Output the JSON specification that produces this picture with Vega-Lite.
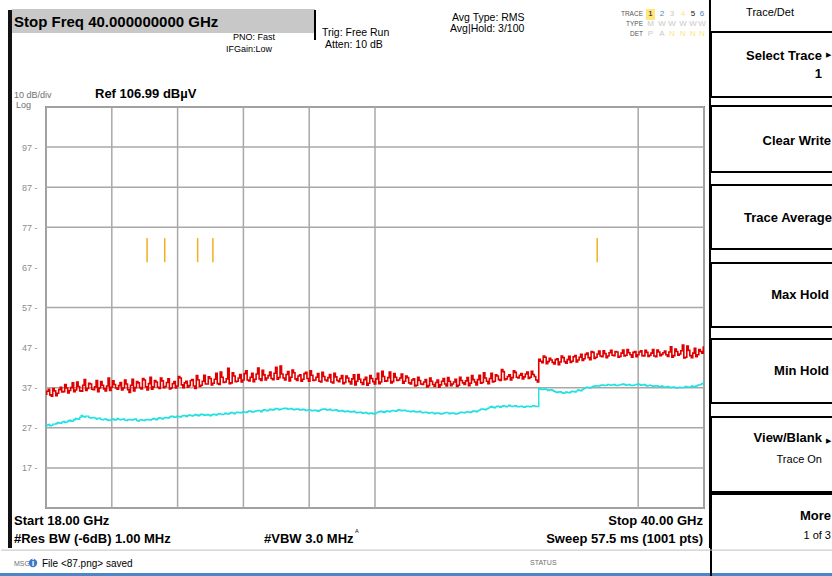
{
  "$schema": "https://vega.github.io/schema/vega-lite/v6.json",
  "width": 658,
  "height": 401,
  "autosize": {"type": "none"},
  "padding": {"left": 46, "top": 107, "right": 128, "bottom": 68},
  "background": "white",
  "config": {"font": "Liberation Sans", "view": {"stroke": "#8a8a8a", "strokeWidth": 2}},
  "datasets": {
    "tr": [
      {"f":18.0,"r":35.4,"c":27.4},{"f":18.1,"r":36.6,"c":27.8},{"f":18.2,"r":34.9,"c":27.6},{"f":18.3,"r":36.2,"c":27.9},{"f":18.4,"r":35.6,"c":28.3},
      {"f":18.5,"r":37.1,"c":28.1},{"f":18.6,"r":36.0,"c":28.6},{"f":18.7,"r":36.9,"c":28.4},{"f":18.8,"r":36.3,"c":28.9},{"f":18.9,"r":38.2,"c":28.7},
      {"f":19.0,"r":36.4,"c":29.3},{"f":19.1,"r":37.3,"c":29.1},{"f":19.2,"r":36.1,"c":30.1},{"f":19.3,"r":39.0,"c":29.7},{"f":19.4,"r":36.8,"c":29.9},
      {"f":19.5,"r":37.9,"c":29.4},{"f":19.6,"r":36.5,"c":29.6},{"f":19.7,"r":38.8,"c":29.2},{"f":19.8,"r":36.9,"c":29.4},{"f":19.9,"r":37.6,"c":29.0},
      {"f":20.0,"r":36.2,"c":29.2},{"f":20.1,"r":39.4,"c":28.8},{"f":20.2,"r":37.1,"c":29.1},{"f":20.3,"r":37.8,"c":28.9},{"f":20.4,"r":36.6,"c":29.3},
      {"f":20.5,"r":38.3,"c":29.0},{"f":20.6,"r":36.9,"c":29.2},{"f":20.7,"r":37.9,"c":28.8},{"f":20.8,"r":35.8,"c":29.1},{"f":20.9,"r":39.1,"c":28.9},
      {"f":21.0,"r":37.0,"c":29.2},{"f":21.1,"r":38.2,"c":28.7},{"f":21.2,"r":36.7,"c":29.0},{"f":21.3,"r":38.9,"c":28.8},{"f":21.4,"r":36.4,"c":29.1},
      {"f":21.5,"r":39.6,"c":28.9},{"f":21.6,"r":37.2,"c":29.3},{"f":21.7,"r":38.4,"c":29.0},{"f":21.8,"r":36.8,"c":29.5},{"f":21.9,"r":38.7,"c":29.2},
      {"f":22.0,"r":37.3,"c":29.6},{"f":22.1,"r":39.2,"c":29.4},{"f":22.2,"r":36.9,"c":29.9},{"f":22.3,"r":38.5,"c":29.6},{"f":22.4,"r":37.4,"c":29.9},
      {"f":22.5,"r":39.4,"c":29.7},{"f":22.6,"r":37.0,"c":30.1},{"f":22.7,"r":38.6,"c":29.8},{"f":22.8,"r":37.5,"c":30.2},{"f":22.9,"r":39.0,"c":29.9},
      {"f":23.0,"r":36.8,"c":30.3},{"f":23.1,"r":38.9,"c":30.0},{"f":23.2,"r":37.6,"c":30.4},{"f":23.3,"r":40.1,"c":30.1},{"f":23.4,"r":37.9,"c":30.3},
      {"f":23.5,"r":39.3,"c":30.0},{"f":23.6,"r":38.1,"c":30.4},{"f":23.7,"r":40.6,"c":30.2},{"f":23.8,"r":37.8,"c":30.5},{"f":23.9,"r":39.6,"c":30.3},
      {"f":24.0,"r":38.4,"c":30.6},{"f":24.1,"r":41.8,"c":30.4},{"f":24.2,"r":38.2,"c":30.8},{"f":24.3,"r":39.9,"c":30.5},{"f":24.4,"r":38.6,"c":30.9},
      {"f":24.5,"r":40.3,"c":30.7},{"f":24.6,"r":38.9,"c":31.0},{"f":24.7,"r":41.2,"c":30.8},{"f":24.8,"r":38.7,"c":31.2},{"f":24.9,"r":40.6,"c":30.9},
      {"f":25.0,"r":39.1,"c":31.1},{"f":25.1,"r":41.9,"c":31.3},{"f":25.2,"r":38.8,"c":31.0},{"f":25.3,"r":40.2,"c":31.5},{"f":25.4,"r":39.4,"c":31.2},
      {"f":25.5,"r":40.9,"c":31.6},{"f":25.6,"r":39.0,"c":31.4},{"f":25.7,"r":42.1,"c":31.8},{"f":25.8,"r":39.5,"c":31.5},{"f":25.9,"r":40.4,"c":31.7},
      {"f":26.0,"r":38.9,"c":31.9},{"f":26.1,"r":41.0,"c":31.6},{"f":26.2,"r":39.6,"c":31.8},{"f":26.3,"r":40.7,"c":31.5},{"f":26.4,"r":38.8,"c":31.7},
      {"f":26.5,"r":40.2,"c":31.4},{"f":26.6,"r":39.1,"c":31.6},{"f":26.7,"r":40.8,"c":31.3},{"f":26.8,"r":38.6,"c":31.5},{"f":26.9,"r":40.1,"c":31.2},
      {"f":27.0,"r":38.9,"c":31.4},{"f":27.1,"r":40.5,"c":31.1},{"f":27.2,"r":38.4,"c":31.5},{"f":27.3,"r":39.8,"c":31.7},{"f":27.4,"r":38.7,"c":31.4},
      {"f":27.5,"r":40.3,"c":31.6},{"f":27.6,"r":38.2,"c":31.3},{"f":27.7,"r":39.7,"c":31.5},{"f":27.8,"r":38.5,"c":31.1},{"f":27.9,"r":40.0,"c":31.3},
      {"f":28.0,"r":38.3,"c":31.0},{"f":28.1,"r":39.4,"c":31.2},{"f":28.2,"r":37.9,"c":30.9},{"f":28.3,"r":40.2,"c":31.1},{"f":28.4,"r":38.6,"c":30.7},
      {"f":28.5,"r":39.1,"c":30.9},{"f":28.6,"r":37.8,"c":30.6},{"f":28.7,"r":39.6,"c":30.8},{"f":28.8,"r":38.1,"c":30.5},{"f":28.9,"r":39.3,"c":30.7},
      {"f":29.0,"r":37.9,"c":30.4},{"f":29.1,"r":40.6,"c":30.9},{"f":29.2,"r":38.4,"c":31.1},{"f":29.3,"r":39.8,"c":30.8},{"f":29.4,"r":38.7,"c":31.2},
      {"f":29.5,"r":40.9,"c":31.0},{"f":29.6,"r":38.5,"c":31.3},{"f":29.7,"r":39.6,"c":31.1},{"f":29.8,"r":38.9,"c":31.5},{"f":29.9,"r":40.4,"c":31.2},
      {"f":30.0,"r":38.6,"c":31.4},{"f":30.1,"r":39.5,"c":31.1},{"f":30.2,"r":37.9,"c":31.0},{"f":30.3,"r":39.2,"c":31.2},{"f":30.4,"r":37.6,"c":30.9},
      {"f":30.5,"r":38.8,"c":31.1},{"f":30.6,"r":37.8,"c":30.7},{"f":30.7,"r":39.0,"c":30.9},{"f":30.8,"r":37.5,"c":30.6},{"f":30.9,"r":38.6,"c":30.8},
      {"f":31.0,"r":37.3,"c":30.5},{"f":31.1,"r":38.9,"c":30.7},{"f":31.2,"r":37.7,"c":30.4},{"f":31.3,"r":39.3,"c":30.6},{"f":31.4,"r":37.4,"c":30.8},
      {"f":31.5,"r":38.6,"c":30.5},{"f":31.6,"r":37.9,"c":30.7},{"f":31.7,"r":39.1,"c":30.4},{"f":31.8,"r":37.6,"c":30.6},{"f":31.9,"r":38.8,"c":30.9},
      {"f":32.0,"r":37.8,"c":30.7},{"f":32.1,"r":39.5,"c":31.0},{"f":32.2,"r":38.1,"c":30.8},{"f":32.3,"r":39.0,"c":31.2},{"f":32.4,"r":37.7,"c":31.0},
      {"f":32.5,"r":40.1,"c":31.4},{"f":32.6,"r":38.3,"c":31.7},{"f":32.7,"r":39.4,"c":31.5},{"f":32.8,"r":38.0,"c":31.9},{"f":32.9,"r":40.6,"c":32.3},
      {"f":33.0,"r":38.6,"c":32.0},{"f":33.1,"r":39.9,"c":32.4},{"f":33.2,"r":38.8,"c":32.1},{"f":33.3,"r":41.0,"c":32.5},{"f":33.4,"r":39.2,"c":32.2},
      {"f":33.5,"r":40.2,"c":32.6},{"f":33.6,"r":39.5,"c":32.3},{"f":33.7,"r":40.8,"c":32.5},{"f":33.8,"r":39.4,"c":32.2},{"f":33.9,"r":40.5,"c":32.4},
      {"f":34.0,"r":39.7,"c":32.1},{"f":34.1,"r":40.9,"c":32.4},{"f":34.2,"r":39.6,"c":32.2},{"f":34.3,"r":40.3,"c":32.5},{"f":34.4,"r":38.9,"c":32.3},
      {"f":34.5,"r":44.1,"c":36.8},{"f":34.6,"r":43.2,"c":36.5},{"f":34.7,"r":44.6,"c":36.7},{"f":34.8,"r":43.5,"c":36.3},{"f":34.9,"r":43.9,"c":36.5},
      {"f":35.0,"r":42.9,"c":36.1},{"f":35.1,"r":44.2,"c":35.8},{"f":35.2,"r":43.4,"c":36.0},{"f":35.3,"r":44.5,"c":35.6},{"f":35.4,"r":43.1,"c":35.9},
      {"f":35.5,"r":44.8,"c":35.7},{"f":35.6,"r":43.6,"c":36.1},{"f":35.7,"r":45.0,"c":35.9},{"f":35.8,"r":43.9,"c":36.4},{"f":35.9,"r":45.3,"c":36.2},
      {"f":36.0,"r":44.2,"c":36.8},{"f":36.1,"r":45.6,"c":37.1},{"f":36.2,"r":44.0,"c":36.9},{"f":36.3,"r":45.8,"c":37.3},{"f":36.4,"r":44.6,"c":37.5},
      {"f":36.5,"r":46.1,"c":37.4},{"f":36.6,"r":44.7,"c":37.7},{"f":36.7,"r":45.5,"c":37.5},{"f":36.8,"r":44.9,"c":37.8},{"f":36.9,"r":46.3,"c":37.6},
      {"f":37.0,"r":45.0,"c":37.8},{"f":37.1,"r":45.9,"c":37.5},{"f":37.2,"r":44.8,"c":37.7},{"f":37.3,"r":46.4,"c":37.9},{"f":37.4,"r":45.1,"c":37.6},
      {"f":37.5,"r":45.7,"c":37.8},{"f":37.6,"r":44.6,"c":37.5},{"f":37.7,"r":46.0,"c":37.7},{"f":37.8,"r":45.2,"c":37.9},{"f":37.9,"r":46.2,"c":37.6},
      {"f":38.0,"r":44.9,"c":37.8},{"f":38.1,"r":45.8,"c":37.4},{"f":38.2,"r":45.1,"c":37.6},{"f":38.3,"r":46.5,"c":37.3},{"f":38.4,"r":44.7,"c":37.5},
      {"f":38.5,"r":45.9,"c":37.2},{"f":38.6,"r":45.3,"c":37.4},{"f":38.7,"r":46.1,"c":37.1},{"f":38.8,"r":44.8,"c":37.3},{"f":38.9,"r":47.2,"c":37.0},
      {"f":39.0,"r":45.0,"c":37.2},{"f":39.1,"r":46.0,"c":36.9},{"f":39.2,"r":45.4,"c":37.1},{"f":39.3,"r":47.6,"c":37.0},{"f":39.4,"r":44.6,"c":37.3},
      {"f":39.5,"r":46.3,"c":37.1},{"f":39.6,"r":44.5,"c":37.4},{"f":39.7,"r":46.8,"c":37.2},{"f":39.8,"r":45.2,"c":37.6},{"f":39.9,"r":46.0,"c":37.8},
      {"f":40.0,"r":47.1,"c":38.2},
      {"f":18.05,"r":36.1,"c":27.7},{"f":18.15,"r":35.2,"c":27.5},{"f":18.25,"r":36.8,"c":27.9},{"f":18.35,"r":35.0,"c":28.0},{"f":18.45,"r":36.5,"c":28.2},
      {"f":18.55,"r":35.9,"c":28.4},{"f":18.65,"r":37.8,"c":28.3},{"f":18.75,"r":35.7,"c":28.7},{"f":18.85,"r":37.0,"c":28.6},{"f":18.95,"r":36.0,"c":29.0},
      {"f":19.05,"r":38.4,"c":29.2},{"f":19.15,"r":36.2,"c":29.6},{"f":19.25,"r":37.6,"c":29.8},{"f":19.35,"r":36.3,"c":29.9},{"f":19.45,"r":38.1,"c":29.6},
      {"f":19.55,"r":36.6,"c":29.5},{"f":19.65,"r":37.2,"c":29.4},{"f":19.75,"r":36.0,"c":29.3},{"f":19.85,"r":38.5,"c":29.1},{"f":19.95,"r":36.7,"c":29.1},
      {"f":20.05,"r":37.4,"c":29.0},{"f":20.15,"r":36.3,"c":28.9},{"f":20.25,"r":38.7,"c":29.2},{"f":20.35,"r":36.9,"c":29.0},{"f":20.45,"r":37.5,"c":29.1},
      {"f":20.55,"r":36.4,"c":29.1},{"f":20.65,"r":38.9,"c":28.9},{"f":20.75,"r":36.5,"c":29.0},{"f":20.85,"r":37.6,"c":29.0},{"f":20.95,"r":36.2,"c":29.1},
      {"f":21.05,"r":38.5,"c":28.8},{"f":21.15,"r":37.0,"c":28.9},{"f":21.25,"r":39.3,"c":28.9},{"f":21.35,"r":37.2,"c":29.0},{"f":21.45,"r":38.0,"c":29.0},
      {"f":21.55,"r":36.6,"c":29.1},{"f":21.65,"r":38.8,"c":29.2},{"f":21.75,"r":37.1,"c":29.3},{"f":21.85,"r":39.4,"c":29.4},{"f":21.95,"r":37.0,"c":29.4},
      {"f":22.05,"r":38.3,"c":29.5},{"f":22.15,"r":36.7,"c":29.7},{"f":22.25,"r":38.0,"c":29.8},{"f":22.35,"r":36.9,"c":29.7},{"f":22.45,"r":39.8,"c":29.8},
      {"f":22.55,"r":37.7,"c":29.9},{"f":22.65,"r":38.2,"c":30.0},{"f":22.75,"r":37.1,"c":30.0},{"f":22.85,"r":38.8,"c":30.1},{"f":22.95,"r":37.4,"c":30.1},
      {"f":23.05,"r":40.0,"c":30.2},{"f":23.15,"r":37.3,"c":30.2},{"f":23.25,"r":38.6,"c":30.3},{"f":23.35,"r":37.9,"c":30.2},{"f":23.45,"r":39.7,"c":30.2},
      {"f":23.55,"r":37.7,"c":30.2},{"f":23.65,"r":39.1,"c":30.3},{"f":23.75,"r":38.0,"c":30.4},{"f":23.85,"r":40.9,"c":30.4},{"f":23.95,"r":38.3,"c":30.4},
      {"f":24.05,"r":39.2,"c":30.5},{"f":24.15,"r":38.0,"c":30.6},{"f":24.25,"r":40.7,"c":30.7},{"f":24.35,"r":38.5,"c":30.7},{"f":24.45,"r":39.4,"c":30.8},
      {"f":24.55,"r":38.4,"c":30.8},{"f":24.65,"r":40.5,"c":30.9},{"f":24.75,"r":38.9,"c":31.0},{"f":24.85,"r":39.6,"c":31.1},{"f":24.95,"r":38.5,"c":31.0},
      {"f":25.05,"r":40.4,"c":31.2},{"f":25.15,"r":39.2,"c":31.2},{"f":25.25,"r":41.3,"c":31.3},{"f":25.35,"r":38.9,"c":31.4},{"f":25.45,"r":40.0,"c":31.4},
      {"f":25.55,"r":39.3,"c":31.5},{"f":25.65,"r":40.6,"c":31.6},{"f":25.75,"r":39.1,"c":31.7},{"f":25.85,"r":42.4,"c":31.6},{"f":25.95,"r":39.4,"c":31.8},
      {"f":26.05,"r":40.3,"c":31.8},{"f":26.15,"r":38.7,"c":31.7},{"f":26.25,"r":41.4,"c":31.6},{"f":26.35,"r":39.2,"c":31.6},{"f":26.45,"r":39.9,"c":31.6},
      {"f":26.55,"r":38.6,"c":31.5},{"f":26.65,"r":40.5,"c":31.5},{"f":26.75,"r":39.3,"c":31.4},{"f":26.85,"r":41.2,"c":31.4},{"f":26.95,"r":38.8,"c":31.3},
      {"f":27.05,"r":39.6,"c":31.3},{"f":27.15,"r":38.6,"c":31.3},{"f":27.25,"r":40.8,"c":31.6},{"f":27.35,"r":38.9,"c":31.6},{"f":27.45,"r":39.5,"c":31.5},
      {"f":27.55,"r":38.4,"c":31.4},{"f":27.65,"r":40.6,"c":31.4},{"f":27.75,"r":38.8,"c":31.3},{"f":27.85,"r":39.3,"c":31.2},{"f":27.95,"r":38.0,"c":31.1},
      {"f":28.05,"r":39.9,"c":31.1},{"f":28.15,"r":38.5,"c":31.0},{"f":28.25,"r":39.2,"c":31.0},{"f":28.35,"r":37.7,"c":30.9},{"f":28.45,"r":40.3,"c":30.8},
      {"f":28.55,"r":38.3,"c":30.8},{"f":28.65,"r":39.0,"c":30.7},{"f":28.75,"r":37.6,"c":30.6},{"f":28.85,"r":40.0,"c":30.6},{"f":28.95,"r":38.5,"c":30.5},
      {"f":29.05,"r":39.2,"c":30.7},{"f":29.15,"r":38.0,"c":31.0},{"f":29.25,"r":41.1,"c":31.0},{"f":29.35,"r":38.6,"c":31.0},{"f":29.45,"r":39.5,"c":31.1},
      {"f":29.55,"r":38.2,"c":31.2},{"f":29.65,"r":40.5,"c":31.2},{"f":29.75,"r":38.8,"c":31.3},{"f":29.85,"r":39.4,"c":31.4},{"f":29.95,"r":38.1,"c":31.3},
      {"f":30.05,"r":39.9,"c":31.2},{"f":30.15,"r":38.2,"c":31.1},{"f":30.25,"r":38.9,"c":31.1},{"f":30.35,"r":37.4,"c":31.0},{"f":30.45,"r":39.6,"c":31.0},
      {"f":30.55,"r":37.9,"c":30.9},{"f":30.65,"r":38.4,"c":30.8},{"f":30.75,"r":37.2,"c":30.8},{"f":30.85,"r":39.4,"c":30.7},{"f":30.95,"r":37.8,"c":30.7},
      {"f":31.05,"r":38.3,"c":30.6},{"f":31.15,"r":37.1,"c":30.6},{"f":31.25,"r":38.6,"c":30.5},{"f":31.35,"r":37.9,"c":30.7},{"f":31.45,"r":39.5,"c":30.7},
      {"f":31.55,"r":37.5,"c":30.6},{"f":31.65,"r":38.4,"c":30.6},{"f":31.75,"r":37.3,"c":30.5},{"f":31.85,"r":39.6,"c":30.8},{"f":31.95,"r":38.2,"c":30.8},
      {"f":32.05,"r":38.7,"c":30.9},{"f":32.15,"r":37.5,"c":30.9},{"f":32.25,"r":40.0,"c":31.0},{"f":32.35,"r":38.4,"c":31.1},{"f":32.45,"r":39.0,"c":31.2},
      {"f":32.55,"r":38.1,"c":31.6},{"f":32.65,"r":40.7,"c":31.6},{"f":32.75,"r":38.6,"c":31.7},{"f":32.85,"r":39.3,"c":32.1},{"f":32.95,"r":38.4,"c":32.1},
      {"f":33.05,"r":40.2,"c":32.2},{"f":33.15,"r":39.0,"c":32.3},{"f":33.25,"r":41.5,"c":32.3},{"f":33.35,"r":39.0,"c":32.4},{"f":33.45,"r":39.8,"c":32.4},
      {"f":33.55,"r":38.9,"c":32.4},{"f":33.65,"r":41.2,"c":32.4},{"f":33.75,"r":39.6,"c":32.3},{"f":33.85,"r":40.1,"c":32.3},{"f":33.95,"r":39.2,"c":32.2},
      {"f":34.05,"r":40.4,"c":32.3},{"f":34.15,"r":39.3,"c":32.3},{"f":34.25,"r":41.1,"c":32.4},{"f":34.35,"r":39.8,"c":32.4},{"f":34.45,"r":38.4,"c":32.3},
      {"f":34.55,"r":43.6,"c":36.6},{"f":34.65,"r":44.9,"c":36.6},{"f":34.75,"r":43.0,"c":36.5},{"f":34.85,"r":44.3,"c":36.4},{"f":34.95,"r":43.3,"c":36.3},
      {"f":35.05,"r":44.0,"c":35.9},{"f":35.15,"r":42.7,"c":35.9},{"f":35.25,"r":44.9,"c":35.8},{"f":35.35,"r":43.5,"c":35.7},{"f":35.45,"r":44.0,"c":35.8},
      {"f":35.55,"r":43.3,"c":35.9},{"f":35.65,"r":44.7,"c":36.0},{"f":35.75,"r":43.4,"c":36.2},{"f":35.85,"r":44.6,"c":36.3},{"f":35.95,"r":43.8,"c":36.5},
      {"f":36.05,"r":45.3,"c":37.0},{"f":36.15,"r":44.5,"c":37.0},{"f":36.25,"r":46.0,"c":37.1},{"f":36.35,"r":44.3,"c":37.4},{"f":36.45,"r":45.4,"c":37.4},
      {"f":36.55,"r":44.9,"c":37.6},{"f":36.65,"r":46.2,"c":37.6},{"f":36.75,"r":44.5,"c":37.6},{"f":36.85,"r":45.7,"c":37.7},{"f":36.95,"r":45.1,"c":37.7},
      {"f":37.05,"r":46.0,"c":37.6},{"f":37.15,"r":44.6,"c":37.6},{"f":37.25,"r":45.6,"c":37.8},{"f":37.35,"r":44.9,"c":37.8},{"f":37.45,"r":46.5,"c":37.7},
      {"f":37.55,"r":45.2,"c":37.6},{"f":37.65,"r":45.8,"c":37.6},{"f":37.75,"r":44.7,"c":37.8},{"f":37.85,"r":45.9,"c":37.8},{"f":37.95,"r":45.0,"c":37.7},
      {"f":38.05,"r":46.3,"c":37.6},{"f":38.15,"r":44.8,"c":37.5},{"f":38.25,"r":45.6,"c":37.5},{"f":38.35,"r":44.9,"c":37.4},{"f":38.45,"r":46.4,"c":37.4},
      {"f":38.55,"r":45.0,"c":37.3},{"f":38.65,"r":45.7,"c":37.2},{"f":38.75,"r":45.2,"c":37.2},{"f":38.85,"r":45.9,"c":37.1},{"f":38.95,"r":44.6,"c":37.1},
      {"f":39.05,"r":46.6,"c":37.0},{"f":39.15,"r":45.1,"c":37.0},{"f":39.25,"r":46.2,"c":37.0},{"f":39.35,"r":44.4,"c":37.1},{"f":39.45,"r":47.4,"c":37.2},
      {"f":39.55,"r":45.0,"c":37.2},{"f":39.65,"r":45.6,"c":37.3},{"f":39.75,"r":44.7,"c":37.4},{"f":39.85,"r":46.5,"c":37.7},{"f":39.95,"r":45.6,"c":38.0}
    ]
  },
  "layer": [
    {
      "data": {"values": [{"x":16.729,"x2":16.863,"y":131.18,"y2":-2.985,"k":"bar"},{"x":16.462,"x2":44.4,"y":-9.219,"y2":-10.2,"k":"strip"},{"x":16.863,"x2":26.994,"y":131.429,"y2":125.444,"k":"box"},{"x":38.06,"x2":38.361,"y":131.429,"y2":128.686,"k":"hl"}]},
      "mark": {"type": "rect"},
      "encoding": {
        "x": {"field": "x", "type": "quantitative", "scale": {"domain": [18, 40], "nice": false, "zero": false}, "axis": null},
        "x2": {"field": "x2"},
        "y": {"field": "y", "type": "quantitative", "scale": {"domain": [6.99, 106.99], "nice": false, "zero": false}, "axis": {"values": [16.99,26.99,36.99,46.99,56.99,66.99,76.99,86.99,96.99], "labelExpr": "format(datum.value, '.0f') + ' -'", "labelColor": "#8c8c8c", "labelFontSize": 9, "ticks": false, "domain": false, "grid": false, "labelPadding": 9, "title": null}},
        "y2": {"field": "y2"},
        "color": {"field": "k", "type": "nominal", "legend": null, "scale": {"domain": ["bar","strip","box","hl"], "range": ["#111111","#4a86c8","#c8c8c8","#ffe680"]}}
      }
    },
    {
      "data": {"values": [{"g":18},{"g":20.2},{"g":22.4},{"g":24.6},{"g":26.8},{"g":29},{"g":37.8},{"g":40}]},
      "mark": {"type": "rule", "color": "#a8a8a8", "strokeWidth": 1.5},
      "encoding": {"x": {"field": "g", "type": "quantitative", "scale": {"domain": [18, 40], "nice": false, "zero": false}, "axis": null}}
    },
    {
      "data": {"values": [{"g":6.99},{"g":16.99},{"g":26.99},{"g":36.99},{"g":56.99},{"g":76.99},{"g":86.99},{"g":96.99},{"g":106.99}]},
      "mark": {"type": "rule", "color": "#a8a8a8", "strokeWidth": 1.5},
      "encoding": {"y": {"field": "g", "type": "quantitative", "scale": {"domain": [6.99, 106.99], "nice": false, "zero": false}, "axis": {"values": [16.99,26.99,36.99,46.99,56.99,66.99,76.99,86.99,96.99], "labelExpr": "format(datum.value, '.0f') + ' -'", "labelColor": "#8c8c8c", "labelFontSize": 9, "ticks": false, "domain": false, "grid": false, "labelPadding": 9, "title": null}}}
    },
    {
      "data": {"name": "tr"},
      "mark": {"type": "line", "color": "#20e0e0", "strokeWidth": 1.4, "interpolate": "step"},
      "encoding": {
        "x": {"field": "f", "type": "quantitative", "scale": {"domain": [18, 40], "nice": false, "zero": false}, "axis": null},
        "y": {"field": "c", "type": "quantitative", "scale": {"domain": [6.99, 106.99], "nice": false, "zero": false}}
      }
    },
    {
      "data": {"name": "tr"},
      "mark": {"type": "line", "color": "#e00000", "strokeWidth": 1.6, "interpolate": "step"},
      "encoding": {
        "x": {"field": "f", "type": "quantitative", "scale": {"domain": [18, 40], "nice": false, "zero": false}, "axis": null},
        "y": {"field": "r", "type": "quantitative", "scale": {"domain": [6.99, 106.99], "nice": false, "zero": false}}
      }
    },
    {
      "data": {"values": [{"m":21.38},{"m":21.97},{"m":23.07},{"m":23.58},{"m":36.43}]},
      "mark": {"type": "rule", "color": "#f0b020", "strokeWidth": 1.5},
      "encoding": {
        "x": {"field": "m", "type": "quantitative", "scale": {"domain": [18, 40], "nice": false, "zero": false}, "axis": null},
        "y": {"datum": 68.3, "type": "quantitative", "scale": {"domain": [6.99, 106.99], "nice": false, "zero": false}},
        "y2": {"datum": 74.3}
      }
    },
    {
      "data": {"values": [
        {"x":40.234,"x2":44.6,"y":125.693,"y2":109.484},
        {"x":40.234,"x2":44.6,"y":107.239,"y2":90.78},
        {"x":40.234,"x2":44.6,"y":87.539,"y2":71.578},
        {"x":40.234,"x2":44.6,"y":68.087,"y2":52.127},
        {"x":40.234,"x2":44.6,"y":49.135,"y2":33.175},
        {"x":40.234,"x2":44.6,"y":29.683,"y2":10.981},
        {"x":40.234,"x2":44.6,"y":10.482,"y2":-11.0}
      ]},
      "mark": {"type": "rect", "fill": null, "fillOpacity": 0, "stroke": "#000000", "strokeWidth": 2},
      "encoding": {
        "x": {"field": "x", "type": "quantitative", "scale": {"domain": [18, 40], "nice": false, "zero": false}, "axis": null},
        "x2": {"field": "x2"},
        "y": {"field": "y", "type": "quantitative", "scale": {"domain": [6.99, 106.99], "nice": false, "zero": false}},
        "y2": {"field": "y2"}
      }
    },
    {
      "data": {"values": [{"x":40.2,"y":133.7,"y2":-2.985},{"x":26.994,"y":131.18,"y2":123.7}]},
      "mark": {"type": "rule", "color": "#000000", "strokeWidth": 2},
      "encoding": {
        "x": {"field": "x", "type": "quantitative", "scale": {"domain": [18, 40], "nice": false, "zero": false}, "axis": null},
        "y": {"field": "y", "type": "quantitative", "scale": {"domain": [6.99, 106.99], "nice": false, "zero": false}},
        "y2": {"field": "y2"}
      }
    },
    {
      "data": {"values": [{"x":16.5,"x2":44.4,"y":-3.5},{"x":34.818,"x2":34.818,"y":-3.5}]},
      "mark": {"type": "rule", "color": "#c0c0c0", "strokeWidth": 1},
      "encoding": {
        "x": {"field": "x", "type": "quantitative", "scale": {"domain": [18, 40], "nice": false, "zero": false}, "axis": null},
        "x2": {"field": "x2"},
        "y": {"field": "y", "type": "quantitative", "scale": {"domain": [6.99, 106.99], "nice": false, "zero": false}}
      }
    },
    {
      "data": {"values": [{"x":17.565,"y":-6.727}]},
      "mark": {"type": "point", "filled": true, "color": "#3a78d0", "size": 70, "opacity": 1},
      "encoding": {
        "x": {"field": "x", "type": "quantitative", "scale": {"domain": [18, 40], "nice": false, "zero": false}, "axis": null},
        "y": {"field": "y", "type": "quantitative", "scale": {"domain": [6.99, 106.99], "nice": false, "zero": false}}
      }
    },
    {
      "data": {"values": [{"x":17.565,"y":-6.727,"t":"i"}]},
      "mark": {"type": "text", "color": "white", "fontSize": 9, "fontWeight": "bold", "align": "center", "baseline": "middle"},
      "encoding": {
        "x": {"field": "x", "type": "quantitative", "scale": {"domain": [18, 40], "nice": false, "zero": false}, "axis": null},
        "y": {"field": "y", "type": "quantitative", "scale": {"domain": [6.99, 106.99], "nice": false, "zero": false}},
        "text": {"field": "t"}
      }
    },
    {
      "data": {"values": [{"x":16.93,"y":128.19,"t":"Stop Freq 40.000000000 GHz"}]},
      "mark": {"type": "text", "color": "#000000", "fontSize": 15, "fontWeight": "bold", "align": "left", "baseline": "middle"},
      "encoding": {
        "x": {"field": "x", "type": "quantitative", "scale": {"domain": [18, 40], "nice": false, "zero": false}, "axis": null},
        "y": {"field": "y", "type": "quantitative", "scale": {"domain": [6.99, 106.99], "nice": false, "zero": false}},
        "text": {"field": "t"}
      }
    },
    {
      "data": {"values": [{"x":24.252,"y":124.446,"t":"PNO: Fast"},{"x":24.018,"y":121.45,"t":"IFGain:Low"}]},
      "mark": {"type": "text", "color": "#000000", "fontSize": 9, "align": "left", "baseline": "middle"},
      "encoding": {
        "x": {"field": "x", "type": "quantitative", "scale": {"domain": [18, 40], "nice": false, "zero": false}, "axis": null},
        "y": {"field": "y", "type": "quantitative", "scale": {"domain": [6.99, 106.99], "nice": false, "zero": false}},
        "text": {"field": "t"}
      }
    },
    {
      "data": {"values": [{"x":27.228,"y":125.444,"t":"Trig: Free Run"},{"x":27.328,"y":122.45,"t":"Atten: 10 dB"},{"x":31.575,"y":129.18,"t":"Avg Type: RMS"},{"x":31.508,"y":126.44,"t":"Avg|Hold: 3/100"}]},
      "mark": {"type": "text", "color": "#000000", "fontSize": 10.5, "align": "left", "baseline": "middle"},
      "encoding": {
        "x": {"field": "x", "type": "quantitative", "scale": {"domain": [18, 40], "nice": false, "zero": false}, "axis": null},
        "y": {"field": "y", "type": "quantitative", "scale": {"domain": [6.99, 106.99], "nice": false, "zero": false}},
        "text": {"field": "t"}
      }
    },
    {
      "data": {"values": [{"x":37.96,"y":130.182,"t":"TRACE"},{"x":37.96,"y":127.688,"t":"TYPE"},{"x":37.96,"y":125.194,"t":"DET"}]},
      "mark": {"type": "text", "color": "#555555", "fontSize": 6.5, "align": "right", "baseline": "middle"},
      "encoding": {
        "x": {"field": "x", "type": "quantitative", "scale": {"domain": [18, 40], "nice": false, "zero": false}, "axis": null},
        "y": {"field": "y", "type": "quantitative", "scale": {"domain": [6.99, 106.99], "nice": false, "zero": false}},
        "text": {"field": "t"}
      }
    },
    {
      "data": {"values": [
        {"x":38.21,"y":130.182,"t":"1","k":"1"},{"x":38.595,"y":130.182,"t":"2","k":"2"},{"x":38.929,"y":130.182,"t":"3","k":"3"},{"x":39.297,"y":130.182,"t":"4","k":"4"},{"x":39.632,"y":130.182,"t":"5","k":"5"},{"x":39.933,"y":130.182,"t":"6","k":"6"},
        {"x":38.21,"y":127.688,"t":"M","k":"t"},{"x":38.595,"y":127.688,"t":"W","k":"t"},{"x":38.929,"y":127.688,"t":"W","k":"t"},{"x":39.297,"y":127.688,"t":"W","k":"t"},{"x":39.632,"y":127.688,"t":"W","k":"t"},{"x":39.933,"y":127.688,"t":"W","k":"t"},
        {"x":38.21,"y":125.194,"t":"P","k":"t"},{"x":38.595,"y":125.194,"t":"A","k":"t"},{"x":38.929,"y":125.194,"t":"N","k":"n"},{"x":39.297,"y":125.194,"t":"N","k":"n"},{"x":39.632,"y":125.194,"t":"N","k":"n"},{"x":39.933,"y":125.194,"t":"N","k":"n"}
      ]},
      "mark": {"type": "text", "fontSize": 8, "align": "center", "baseline": "middle"},
      "encoding": {
        "x": {"field": "x", "type": "quantitative", "scale": {"domain": [18, 40], "nice": false, "zero": false}, "axis": null},
        "y": {"field": "y", "type": "quantitative", "scale": {"domain": [6.99, 106.99], "nice": false, "zero": false}},
        "text": {"field": "t"},
        "color": {"field": "k", "type": "nominal", "legend": null, "scale": {"domain": ["1","2","3","4","5","6","t","n"], "range": ["#e08a00","#20b8d0","#d040c0","#6a70e0","#c040a0","#8040c0","#444444","#18a018"]}}
      }
    },
    {
      "data": {"values": [{"x":16.93,"y":109.98,"t":"10 dB/div"},{"x":16.997,"y":107.49,"t":"Log"}]},
      "mark": {"type": "text", "color": "#707070", "fontSize": 9, "align": "left", "baseline": "middle"},
      "encoding": {
        "x": {"field": "x", "type": "quantitative", "scale": {"domain": [18, 40], "nice": false, "zero": false}, "axis": null},
        "y": {"field": "y", "type": "quantitative", "scale": {"domain": [6.99, 106.99], "nice": false, "zero": false}},
        "text": {"field": "t"}
      }
    },
    {
      "data": {"values": [{"x":19.638,"y":110.232,"t":"Ref 106.99 dBµV"},{"x":16.93,"y":3.748,"t":"Start 18.00 GHz"},{"x":16.93,"y":-0.741,"t":"#Res BW (-6dB) 1.00 MHz"},{"x":25.289,"y":-0.741,"t":"#VBW 3.0 MHz"}]},
      "mark": {"type": "text", "color": "#000000", "fontSize": 13, "fontWeight": "bold", "align": "left", "baseline": "middle"},
      "encoding": {
        "x": {"field": "x", "type": "quantitative", "scale": {"domain": [18, 40], "nice": false, "zero": false}, "axis": null},
        "y": {"field": "y", "type": "quantitative", "scale": {"domain": [6.99, 106.99], "nice": false, "zero": false}},
        "text": {"field": "t"}
      }
    },
    {
      "data": {"values": [{"x":28.33,"y":1.3,"t":"A"}]},
      "mark": {"type": "text", "color": "#000000", "fontSize": 5.5, "align": "left", "baseline": "middle"},
      "encoding": {
        "x": {"field": "x", "type": "quantitative", "scale": {"domain": [18, 40], "nice": false, "zero": false}, "axis": null},
        "y": {"field": "y", "type": "quantitative", "scale": {"domain": [6.99, 106.99], "nice": false, "zero": false}},
        "text": {"field": "t"}
      }
    },
    {
      "data": {"values": [
        {"x":39.967,"y":3.748,"t":"Stop 40.00 GHz"},{"x":39.967,"y":-0.741,"t":"Sweep  57.5 ms (1001 pts)"},
        {"x":43.945,"y":119.708,"t":"Select Trace"},{"x":43.945,"y":115.219,"t":"1"},
        {"x":44.246,"y":98.511,"t":"Clear Write"},{"x":44.279,"y":79.309,"t":"Trace Average"},
        {"x":44.179,"y":60.107,"t":"Max Hold"},{"x":44.179,"y":41.153,"t":"Min Hold"},
        {"x":43.945,"y":24.445,"t":"View/Blank"},{"x":44.246,"y":4.997,"t":"More"}
      ]},
      "mark": {"type": "text", "color": "#000000", "fontSize": 13, "fontWeight": "bold", "align": "right", "baseline": "middle"},
      "encoding": {
        "x": {"field": "x", "type": "quantitative", "scale": {"domain": [18, 40], "nice": false, "zero": false}, "axis": null},
        "y": {"field": "y", "type": "quantitative", "scale": {"domain": [6.99, 106.99], "nice": false, "zero": false}},
        "text": {"field": "t"}
      }
    },
    {
      "data": {"values": [{"x":43.945,"y":18.958,"t":"Trace On"},{"x":44.246,"y":0.009,"t":"1 of 3"}]},
      "mark": {"type": "text", "color": "#000000", "fontSize": 11, "align": "right", "baseline": "middle"},
      "encoding": {
        "x": {"field": "x", "type": "quantitative", "scale": {"domain": [18, 40], "nice": false, "zero": false}, "axis": null},
        "y": {"field": "y", "type": "quantitative", "scale": {"domain": [6.99, 106.99], "nice": false, "zero": false}},
        "text": {"field": "t"}
      }
    },
    {
      "data": {"values": [{"x":44.079,"y":119.9,"t":"▶"},{"x":44.079,"y":23.7,"t":"▶"}]},
      "mark": {"type": "text", "color": "#000000", "fontSize": 7, "align": "left", "baseline": "middle"},
      "encoding": {
        "x": {"field": "x", "type": "quantitative", "scale": {"domain": [18, 40], "nice": false, "zero": false}, "axis": null},
        "y": {"field": "y", "type": "quantitative", "scale": {"domain": [6.99, 106.99], "nice": false, "zero": false}},
        "text": {"field": "t"}
      }
    },
    {
      "data": {"values": [{"x":42.207,"y":130.431,"t":"Trace/Det"}]},
      "mark": {"type": "text", "color": "#000000", "fontSize": 11, "align": "center", "baseline": "middle"},
      "encoding": {
        "x": {"field": "x", "type": "quantitative", "scale": {"domain": [18, 40], "nice": false, "zero": false}, "axis": null},
        "y": {"field": "y", "type": "quantitative", "scale": {"domain": [6.99, 106.99], "nice": false, "zero": false}},
        "text": {"field": "t"}
      }
    },
    {
      "data": {"values": [{"x":16.93,"y":-6.976,"t":"MSG"},{"x":34.182,"y":-6.727,"t":"STATUS"}]},
      "mark": {"type": "text", "color": "#707070", "fontSize": 7, "align": "left", "baseline": "middle"},
      "encoding": {
        "x": {"field": "x", "type": "quantitative", "scale": {"domain": [18, 40], "nice": false, "zero": false}, "axis": null},
        "y": {"field": "y", "type": "quantitative", "scale": {"domain": [6.99, 106.99], "nice": false, "zero": false}},
        "text": {"field": "t"}
      }
    },
    {
      "data": {"values": [{"x":17.866,"y":-6.976,"t":"File <87.png> saved"}]},
      "mark": {"type": "text", "color": "#000000", "fontSize": 10, "align": "left", "baseline": "middle"},
      "encoding": {
        "x": {"field": "x", "type": "quantitative", "scale": {"domain": [18, 40], "nice": false, "zero": false}, "axis": null},
        "y": {"field": "y", "type": "quantitative", "scale": {"domain": [6.99, 106.99], "nice": false, "zero": false}},
        "text": {"field": "t"}
      }
    }
  ]
}
